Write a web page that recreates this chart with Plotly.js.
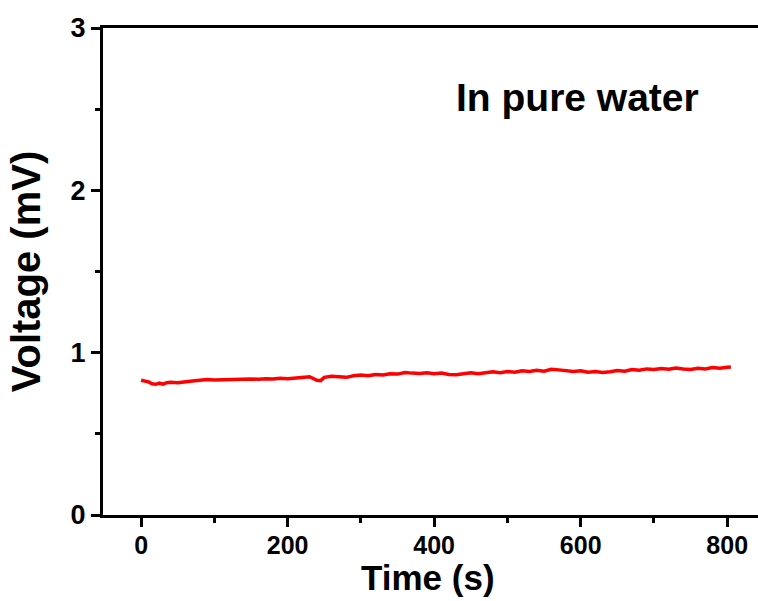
<!DOCTYPE html>
<html><head><meta charset="utf-8">
<script src="https://cdn.plot.ly/plotly-3.0.1.min.js"></script>
<style>html,body{margin:0;padding:0;background:#fff}</style>
</head><body>
<div id="chart" style="width:758px;height:601px"></div>
<script>
const timeS = [0,5,10,15,20,25,30,35,40,50,60,70,80,90,100,110,120,130,140,150,160,170,180,190,200,210,220,230,240,245,250,260,270,280,290,300,310,320,330,340,350,360,370,380,390,400,410,420,430,440,450,460,470,480,490,500,510,520,530,540,550,560,570,580,590,600,610,620,630,640,650,660,670,680,690,700,710,720,730,740,750,760,770,780,790,800,805];
const voltageMV = [0.830,0.825,0.820,0.808,0.805,0.812,0.806,0.815,0.818,0.815,0.822,0.826,0.830,0.835,0.832,0.834,0.832,0.836,0.835,0.838,0.836,0.840,0.838,0.842,0.840,0.845,0.848,0.852,0.830,0.828,0.848,0.855,0.852,0.848,0.858,0.862,0.858,0.866,0.862,0.870,0.868,0.878,0.874,0.872,0.876,0.870,0.874,0.866,0.864,0.872,0.876,0.870,0.878,0.882,0.876,0.884,0.880,0.888,0.884,0.892,0.886,0.898,0.894,0.890,0.884,0.888,0.880,0.884,0.878,0.882,0.890,0.886,0.896,0.892,0.900,0.896,0.902,0.898,0.906,0.900,0.896,0.904,0.900,0.908,0.904,0.910,0.912];
const xTickVals = [0,200,400,600,800];
const yTickVals = [0,1,2,3];
const labelText = "In pure water";
const xTitleText = "Time (s)";
const yTitleText = "Voltage (mV)";

const fam = "Liberation Sans, Arial, sans-serif";
const trace = {
  x: timeS, y: voltageMV, type: 'scatter', mode: 'lines',
  line: {color: '#ff0000', width: 3.5}, hoverinfo: 'skip'
};
const layout = {
  width: 758, height: 601,
  margin: {l: 103, r: 0, t: 28, b: 86},
  paper_bgcolor: '#fff', plot_bgcolor: '#fff',
  showlegend: false,
  font: {family: fam, color: '#000', weight: 'bold'},
  xaxis: {
    range: [-52, 842], showgrid: false, zeroline: false,
    showline: true, linecolor: '#000', linewidth: 3, mirror: true,
    tickmode: 'array', tickvals: xTickVals,
    ticks: 'outside', ticklen: 9, tickwidth: 3, tickcolor: '#000',
    ticklabelstandoff: -3,
    minor: {dtick: 100, tick0: 0, ticks: 'outside', ticklen: 5, tickwidth: 3, tickcolor: '#000', showgrid: false},
    tickfont: {family: fam, size: 25, weight: 'bold', color: '#000'}
  },
  yaxis: {
    range: [0, 3], showgrid: false, zeroline: false,
    showline: true, linecolor: '#000', linewidth: 3, mirror: false,
    tickmode: 'array', tickvals: yTickVals,
    ticks: 'outside', ticklen: 9, tickwidth: 3, tickcolor: '#000',
    minor: {dtick: 0.5, tick0: 0, ticks: 'outside', ticklen: 5, tickwidth: 3, tickcolor: '#000', showgrid: false},
    tickfont: {family: fam, size: 27, weight: 'bold', color: '#000'},
    title: {text: yTitleText, font: {family: fam, size: 40, weight: 'bold', color: '#000'}, standoff: 18}
  },
  annotations: [{
    text: labelText, xref: 'paper', yref: 'paper', x: 0.724, y: 0.858,
    xanchor: 'center', yanchor: 'middle', showarrow: false,
    font: {family: fam, size: 39, weight: 'bold', color: '#000'}
  }, {
    text: xTitleText, xref: 'paper', yref: 'paper', x: 0.496, y: -0.1735,
    xanchor: 'center', yanchor: 'bottom', showarrow: false,
    font: {family: fam, size: 35, weight: 'bold', color: '#000'}
  }]
};
Plotly.newPlot('chart', [trace], layout, {displayModeBar: false, staticPlot: true});
</script>
</body></html>
